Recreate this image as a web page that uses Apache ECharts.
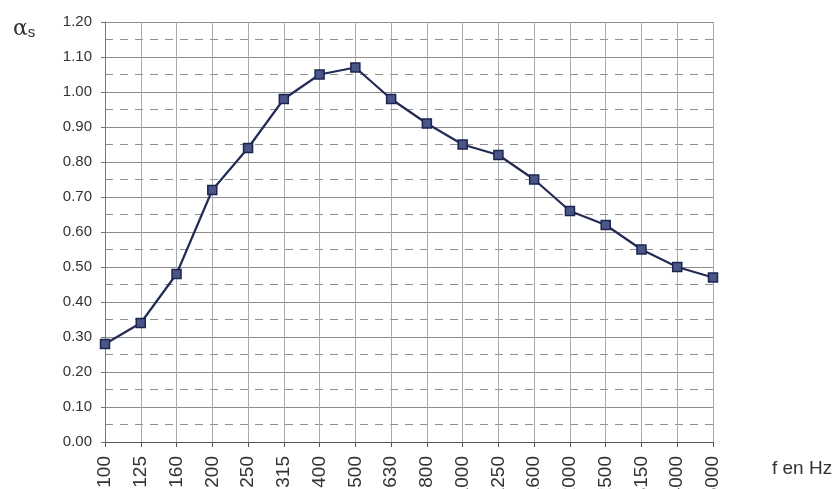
<!DOCTYPE html>
<html>
<head>
<meta charset="utf-8">
<script src="https://cdn.jsdelivr.net/npm/echarts@6/dist/echarts.min.js"></script>
<style>
html,body{margin:0;padding:0;background:#fff;}
#c{width:839px;height:489px;}
</style>
</head>
<body>
<div id="c"></div>
<script>
var categories = ['100','125','160','200','250','315','400','500','630','800','1000','1250','1600','2000','2500','3150','4000','5000'];
var alphaValues = [0.28,0.34,0.48,0.72,0.84,0.98,1.05,1.07,0.98,0.91,0.85,0.82,0.75,0.66,0.62,0.55,0.50,0.47];
var yTickMin = 0, yTickMax = 1.2, yTickStep = 0.1;

var chart = echarts.init(document.getElementById('c'), null, {renderer:'canvas'});
chart.setOption({
  animation:false,
  backgroundColor:'#fff',
  textStyle:{fontFamily:'Liberation Sans, Arial, sans-serif'},
  grid:{left:105, right:126, top:22, bottom:47, containLabel:false, outerBoundsMode:'none'},
  xAxis:{
    type:'category',
    data:categories,
    boundaryGap:false,
    axisLine:{lineStyle:{color:'#555', width:1.2}},
    axisTick:{show:true, length:5, lineStyle:{color:'#555'}},
    axisLabel:{rotate:90, margin:14, fontSize:19, color:'#333', fontFamily:'Liberation Sans, Arial, sans-serif'},
    splitLine:{show:true, lineStyle:{color:'#aaa', width:1}}
  },
  yAxis:{
    type:'value',
    min:yTickMin, max:yTickMax, interval:yTickStep,
    axisLine:{show:true, lineStyle:{color:'#777', width:1}},
    axisTick:{show:true, length:4, lineStyle:{color:'#777'}},
    axisLabel:{margin:13, fontSize:15, color:'#333', formatter:function(v){return v.toFixed(2);}, fontFamily:'Liberation Sans, Arial, sans-serif'},
    splitLine:{show:true, lineStyle:{color:'#8c8c8c', width:1.2}},
    minorTick:{show:false, splitNumber:2},
    minorSplitLine:{show:true, lineStyle:{color:'#8f8f8f', width:1.2, type:[8,7]}}
  },
  series:[{
    type:'line',
    data:alphaValues,
    symbol:'rect',
    symbolSize:9,
    lineStyle:{color:'#222a55', width:2.2},
    itemStyle:{color:'#4a5688', borderColor:'#1c2450', borderWidth:1.5},
    z:5
  }],
  graphic:[
    {type:'text', left:13, top:18, style:{
      text:'{a|α}{s|s}',
      rich:{
        a:{fontSize:22, fill:'#333', fontFamily:'DejaVu Serif, Liberation Serif, serif', verticalAlign:'bottom'},
        s:{fontSize:15, fill:'#333', fontFamily:'Liberation Sans, Arial, sans-serif', padding:[9,0,0,0], verticalAlign:'bottom'}
      }
    }},
    {type:'text', left:772, top:459, style:{text:'f en Hz', fontSize:19, fill:'#333', fontFamily:'Liberation Sans, Arial, sans-serif'}}
  ]
});
</script>
</body>
</html>
